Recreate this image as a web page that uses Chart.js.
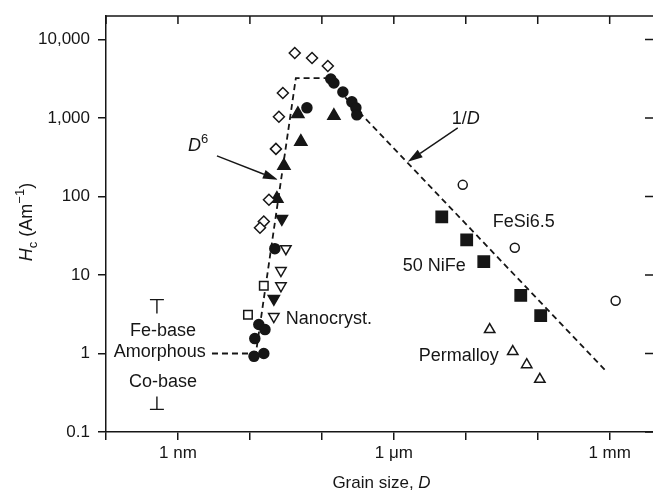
<!DOCTYPE html>
<html>
<head>
<meta charset="utf-8">
<script src="https://cdn.jsdelivr.net/npm/chart.js@4.4.0/dist/chart.umd.min.js"></script>
<style>
  html, body { margin: 0; padding: 0; background: #fff; }
  #wrap { width: 653px; height: 490px; }
</style>
</head>
<body>
<div id="wrap"><canvas id="hcChart" width="653" height="490"></canvas></div>
<script>
// grain size D in nm, coercivity Hc in A/m
const xTicks = [0.1, 1, 10, 100, 1000, 1e4, 1e5, 1e6];
const xTickLabels = { 1: '1 nm', 1000: '1 \u03bcm', 1000000: '1 mm' };
const yTicks = [0.1, 1, 10, 100, 1000, 10000];
const yTickLabels = { 0.1: '0.1', 1: '1', 10: '10', 100: '100', 1000: '1,000', 10000: '10,000' };

const openDiamonds = [[42, 6760], [73, 5830], [121, 4610], [28.7, 2090], [25.3, 1040], [23, 405], [18.4, 91], [15.6, 48], [13.8, 40]];
const filledCircles = [[133, 3150], [147, 2800], [196, 2150], [261, 1610], [297, 1350], [306, 1100], [62, 1350], [22.2, 21.7], [13.3, 2.34], [16.2, 2.02], [11.7, 1.55], [11.4, 0.92], [15.6, 1.0]];
const filledUpTriangles = [[46.4, 1130], [51, 500], [147, 1070], [29.7, 247], [23.7, 94]];
const filledDownTriangles = [[27.8, 52], [21.5, 5.0]];
const nanocryst = [[31.6, 21.7], [27, 11.4], [27, 7.3], [21.5, 2.96]];
const openSquares = [[15.6, 7.3], [9.4, 3.13]];
const niFe50 = [[4640, 55], [10300, 28], [17800, 14.8], [58100, 5.5], [110000, 3.04]];
const feSi65 = [[9080, 141], [48000, 22.3], [1210000, 4.7]];
const permalloy = [[21500, 2.02], [45000, 1.06], [70300, 0.72], [107000, 0.47]];
const trendLine = [[2.97, 1], [12.1, 1], [43.5, 3240], [117, 3240], [851000, 0.625]];

const ink = '#161616';
const family = '"Liberation Sans", Arial, Helvetica, sans-serif';
const pts = arr => arr.map(([x, y]) => ({ x, y }));

function marker(label, data, style, radius, filled, rotation) {
  return {
    type: 'scatter',
    label,
    data: pts(data),
    pointStyle: style,
    pointRadius: radius,
    pointRotation: rotation || 0,
    pointBackgroundColor: filled ? ink : '#fff',
    pointBorderColor: ink,
    pointBorderWidth: 1.5
  };
}

// text, arrows and range bars placed in data units
const labels = [
  { parts: [['D', 'i'], ['6', 'sup']], at: [1.38, 383] },
  { parts: [['1/', ''], ['D', 'i']], at: [6390, 844] },
  { parts: [['FeSi6.5', '']], at: [23700, 41.3] },
  { parts: [['50 NiFe', '']], at: [1334, 11.4] },
  { parts: [['Permalloy', '']], at: [2224, 0.81] },
  { parts: [['Nanocryst.', '']], at: [31.6, 2.41] },
  { parts: [['Fe-base', '']], at: [0.62, 1.69], center: true },
  { parts: [['Amorphous', '']], at: [0.56, 0.89], center: true },
  { parts: [['Co-base', '']], at: [0.62, 0.37], center: true }
];
const arrows = [
  { from: [3.48, 330], to: [24.5, 164] },
  { from: [7740, 750], to: [1564, 277] }
];
const rangeBars = [
  { x: 0.51, bar: 4.86, stem: 3.23 },
  { x: 0.51, bar: 0.194, stem: 0.284 }
];

function rich(ctx, parts, x, y, center, size) {
  const fontFor = s => (s === 'i' ? 'italic ' : '') + (s === 'sup' || s === 'sub' ? Math.round(size * 0.7) : size) + 'px ' + family;
  let w = 0;
  parts.forEach(([t, s]) => { ctx.font = fontFor(s); w += ctx.measureText(t).width; });
  let cx = center ? x - w / 2 : x;
  ctx.textAlign = 'left';
  ctx.textBaseline = 'alphabetic';
  parts.forEach(([t, s]) => {
    ctx.font = fontFor(s);
    const dy = s === 'sup' ? -size * 0.45 : s === 'sub' ? size * 0.25 : 0;
    ctx.fillText(t, cx, y + dy);
    cx += ctx.measureText(t).width;
  });
}

const extras = {
  id: 'extras',
  afterDraw(chart) {
    const { ctx, chartArea: a, scales: { x, y } } = chart;
    const X = v => x.getPixelForValue(v);
    const Y = v => y.getPixelForValue(v);
    ctx.save();
    ctx.strokeStyle = ink;
    ctx.fillStyle = ink;
    ctx.lineWidth = 1.5;

    // top frame and inward ticks on top / right
    ctx.beginPath();
    ctx.moveTo(a.left, a.top);
    ctx.lineTo(a.right, a.top);
    xTicks.forEach(v => { ctx.moveTo(X(v), a.top); ctx.lineTo(X(v), a.top + 8); });
    yTicks.forEach(v => { ctx.moveTo(a.right, Y(v)); ctx.lineTo(a.right - 8, Y(v)); });
    ctx.stroke();

    // range bars for amorphous alloys
    ctx.lineWidth = 1.4;
    ctx.beginPath();
    rangeBars.forEach(b => {
      const px = X(b.x);
      ctx.moveTo(px - 7, Y(b.bar));
      ctx.lineTo(px + 7, Y(b.bar));
      ctx.moveTo(px, Y(b.bar));
      ctx.lineTo(px, Y(b.stem));
    });
    ctx.stroke();

    // arrows
    arrows.forEach(ar => {
      const x0 = X(ar.from[0]), y0 = Y(ar.from[1]);
      const x1 = X(ar.to[0]), y1 = Y(ar.to[1]);
      const ang = Math.atan2(y1 - y0, x1 - x0);
      const len = 15, half = 4.5;
      const bx = x1 - Math.cos(ang) * len, by = y1 - Math.sin(ang) * len;
      ctx.lineWidth = 1.4;
      ctx.beginPath();
      ctx.moveTo(x0, y0);
      ctx.lineTo(bx, by);
      ctx.stroke();
      ctx.beginPath();
      ctx.moveTo(x1, y1);
      ctx.lineTo(bx - Math.sin(ang) * half, by + Math.cos(ang) * half);
      ctx.lineTo(bx + Math.sin(ang) * half, by - Math.cos(ang) * half);
      ctx.closePath();
      ctx.fill();
    });

    // annotation text
    labels.forEach(l => rich(ctx, l.parts, X(l.at[0]), Y(l.at[1]), l.center, 18));

    // axis titles
    rich(ctx, [['Grain size, ', ''], ['D', 'i']], (a.left + a.right) / 2 + 2, 488, true, 17);
    ctx.translate(32, 222);
    ctx.rotate(-Math.PI / 2);
    rich(ctx, [['H', 'i'], ['c', 'sub'], [' (Am', ''], ['\u22121', 'sup'], [')', '']], 0, 0, true, 18);
    ctx.restore();
  }
};

const ctx = document.getElementById('hcChart').getContext('2d');
const chart = new Chart(ctx, {
  data: {
    datasets: [
      marker('Open diamonds', openDiamonds, 'rectRot', 5.5, false),
      marker('Filled circles', filledCircles, 'circle', 5, true),
      marker('Filled triangles', filledUpTriangles, 'triangle', 7, true),
      marker('Filled down triangles', filledDownTriangles, 'triangle', 6.5, true, 180),
      marker('Nanocryst.', nanocryst, 'triangle', 6, false, 180),
      marker('Open squares', openSquares, 'rect', 6, false),
      marker('50 NiFe', niFe50, 'rect', 8, true),
      marker('FeSi6.5', feSi65, 'circle', 4.5, false),
      marker('Permalloy', permalloy, 'triangle', 6, false),
      {
        type: 'line',
        label: 'D^6 and 1/D',
        data: pts(trendLine),
        borderColor: ink,
        borderWidth: 1.8,
        borderDash: [6, 4],
        pointRadius: 0,
        tension: 0,
        fill: false
      }
    ]
  },
  options: {
    responsive: false,
    animation: false,
    devicePixelRatio: 1,
    layout: { autoPadding: false, padding: { left: 0, top: 16, right: 0, bottom: 0 } },
    plugins: { legend: { display: false }, tooltip: { enabled: false } },
    events: [],
    scales: {
      x: {
        type: 'logarithmic',
        min: 0.1,
        max: 4e6,
        afterBuildTicks: scale => { scale.ticks = xTicks.map(v => ({ value: v })); },
        afterFit: scale => { scale.height = 58; scale.paddingLeft = 0; scale.paddingRight = 0; },
        ticks: {
          autoSkip: false,
          maxRotation: 0,
          padding: 3,
          color: ink,
          font: { family, size: 17 },
          callback: v => xTickLabels[v] || ''
        },
        grid: { drawOnChartArea: false, tickLength: 8, color: ink, lineWidth: 1.5 },
        border: { display: true, color: ink, width: 1.5 }
      },
      y: {
        type: 'logarithmic',
        min: 0.1,
        max: 20000,
        afterBuildTicks: scale => { scale.ticks = yTicks.map(v => ({ value: v })); },
        afterFit: scale => { scale.width = 106; scale.paddingTop = 0; scale.paddingBottom = 0; },
        ticks: {
          autoSkip: false,
          padding: 8,
          color: ink,
          font: { family, size: 17 },
          callback: v => yTickLabels[v] || ''
        },
        grid: { drawOnChartArea: false, tickLength: 8, color: ink, lineWidth: 1.5 },
        border: { display: true, color: ink, width: 1.5 }
      }
    }
  },
  plugins: [extras]
});
</script>
</body>
</html>
